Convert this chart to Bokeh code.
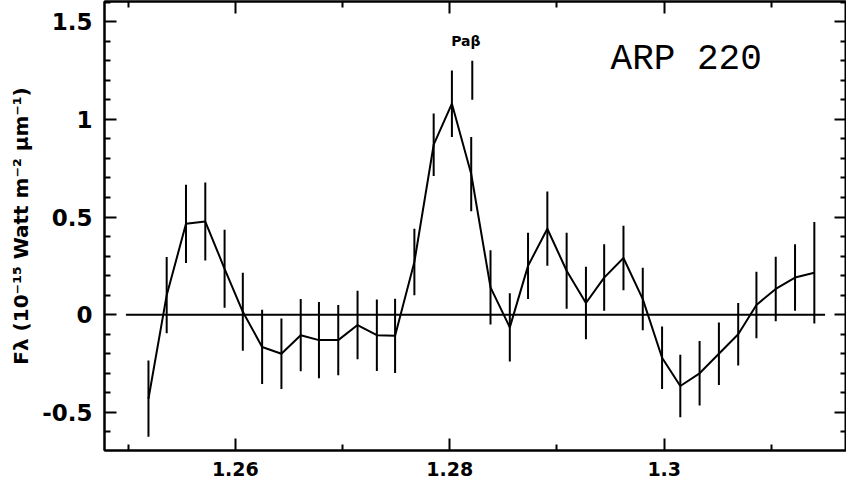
from bokeh.plotting import figure
from bokeh.models import ColumnDataSource, FixedTicker, LinearAxis, Label, Range1d
from bokeh.embed import file_html
from bokeh.resources import INLINE
from bokeh.core.properties import value

# wavelength (micron)
wavelength = [1.2519, 1.2536, 1.2554, 1.2572, 1.2590, 1.2607, 1.2625, 1.2643, 1.2661,
              1.2678, 1.2696, 1.2714, 1.2732, 1.2749, 1.2767, 1.2785, 1.2802, 1.2820,
              1.2838, 1.2856, 1.2873, 1.2891, 1.2909, 1.2927, 1.2944, 1.2962, 1.2980,
              1.2998, 1.3015, 1.3033, 1.3051, 1.3069, 1.3086, 1.3104, 1.3122, 1.3140]
# flux (1e-15 W m^-2 um^-1)
flux = [-0.43, 0.10, 0.465, 0.477, 0.235, 0.015, -0.165, -0.20, -0.105,
        -0.13, -0.13, -0.053, -0.105, -0.108, 0.27, 0.87, 1.08, 0.72,
        0.14, -0.065, 0.25, 0.44, 0.225, 0.06, 0.19, 0.29, 0.08,
        -0.22, -0.365, -0.30, -0.20, -0.10, 0.05, 0.132, 0.19, 0.215]
flux_err = [0.195, 0.195, 0.20, 0.20, 0.20, 0.20, 0.19, 0.18, 0.185,
            0.195, 0.18, 0.175, 0.183, 0.19, 0.17, 0.16, 0.17, 0.19,
            0.19, 0.175, 0.17, 0.19, 0.195, 0.185, 0.17, 0.165, 0.16,
            0.16, 0.16, 0.165, 0.16, 0.16, 0.17, 0.165, 0.17, 0.26]

# Pa beta marker
pab_x = [1.2821]
pab_lo = [1.10]
pab_hi = [1.30]
pab_label = "Paβ"
pab_label_x = 1.2815
pab_label_y = 1.40

# zero line
zero_x = [1.2498, 1.3150]
zero_y = [0.0, 0.0]

title_text = "ARP 220"
title_x = 1.2950
title_y = 1.308

x_major = [1.26, 1.28, 1.30]
x_major_labels = ["1.26", "1.28", "1.3"]
x_minor = [1.25, 1.27, 1.29, 1.31]
y_major = [-0.5, 0.0, 0.5, 1.0, 1.5]
y_major_labels = ["-0.5", "0", "0.5", "1", "1.5"]
y_minor = [-0.6, -0.4, -0.3, -0.2, -0.1, 0.1, 0.2, 0.3, 0.4, 0.6, 0.7, 0.8, 0.9,
           1.1, 1.2, 1.3, 1.4, 1.6]

y_label = "Fλ (10⁻¹⁵ Watt m⁻² μm⁻¹)"

src = ColumnDataSource(dict(
    x=wavelength, y=flux,
    lo=[f - e for f, e in zip(flux, flux_err)],
    hi=[f + e for f, e in zip(flux, flux_err)],
))

p = figure(width=846, height=485, output_backend="svg", toolbar_location=None,
           x_range=Range1d(1.2478, 1.3170), y_range=Range1d(-0.695, 1.603),
           x_axis_location=None, y_axis_location=None,
           min_border_left=104, min_border_right=0, min_border_top=1, min_border_bottom=35)
p.background_fill_color = "white"
p.border_fill_color = "white"
p.grid.visible = False
p.outline_line_color = "black"
p.outline_line_width = 2

FONT = "DejaVu Sans"

def style_axis(ax, ticks, minor, labels, show_labels, size):
    ax.ticker = FixedTicker(ticks=ticks, minor_ticks=minor)
    ax.major_tick_in = 12
    ax.major_tick_out = 0
    ax.minor_tick_in = 6
    ax.minor_tick_out = 0
    ax.major_tick_line_width = 2
    ax.minor_tick_line_width = 2
    ax.axis_line_width = 2
    ax.major_tick_line_color = "black"
    ax.minor_tick_line_color = "black"
    ax.axis_line_color = "black"
    if show_labels:
        ax.major_label_overrides = {t: l for t, l in zip(ticks, labels)}
        ax.major_label_text_font = FONT
        ax.major_label_text_font_style = "bold"
        ax.major_label_text_font_size = size
        ax.major_label_text_color = "black"
    else:
        ax.major_label_text_font_size = "0px"
        ax.major_label_standoff = 0

xb = LinearAxis()
style_axis(xb, x_major, x_minor, x_major_labels, True, "19px")
xb.major_label_standoff = 11
p.add_layout(xb, "below")

xt = LinearAxis()
style_axis(xt, x_major, x_minor, None, False, None)
p.add_layout(xt, "above")

yl = LinearAxis()
style_axis(yl, y_major, y_minor, y_major_labels, True, "23px")
yl.major_label_standoff = 12
yl.axis_label = y_label
yl.axis_label_text_font = FONT
yl.axis_label_text_font_style = "bold"
yl.axis_label_text_font_size = "20px"
yl.axis_label_standoff = 6
yl.axis_label_text_color = "black"
p.add_layout(yl, "left")

yr = LinearAxis()
style_axis(yr, y_major, y_minor, None, False, None)
p.add_layout(yr, "right")

# zero line
p.line(zero_x, zero_y, line_color="black", line_width=2)
# error bars
p.segment(x0="x", y0="lo", x1="x", y1="hi", source=src, line_color="black", line_width=2)
# spectrum
p.line("x", "y", source=src, line_color="black", line_width=2)
# Pa beta marker
p.segment(x0=pab_x, y0=pab_lo, x1=pab_x, y1=pab_hi, line_color="black", line_width=2)

p.add_layout(Label(x=pab_label_x, y=pab_label_y, text=pab_label, text_align="center",
                   text_baseline="alphabetic", text_font=FONT, text_font_style="bold",
                   text_font_size="14px", text_color="black"))
p.add_layout(Label(x=title_x, y=title_y, text=title_text, text_align="left",
                   text_baseline="alphabetic", text_font="Liberation Mono",
                   text_font_size="36px", text_color="black"))

open("out.html", "w").write(file_html(p, INLINE))
